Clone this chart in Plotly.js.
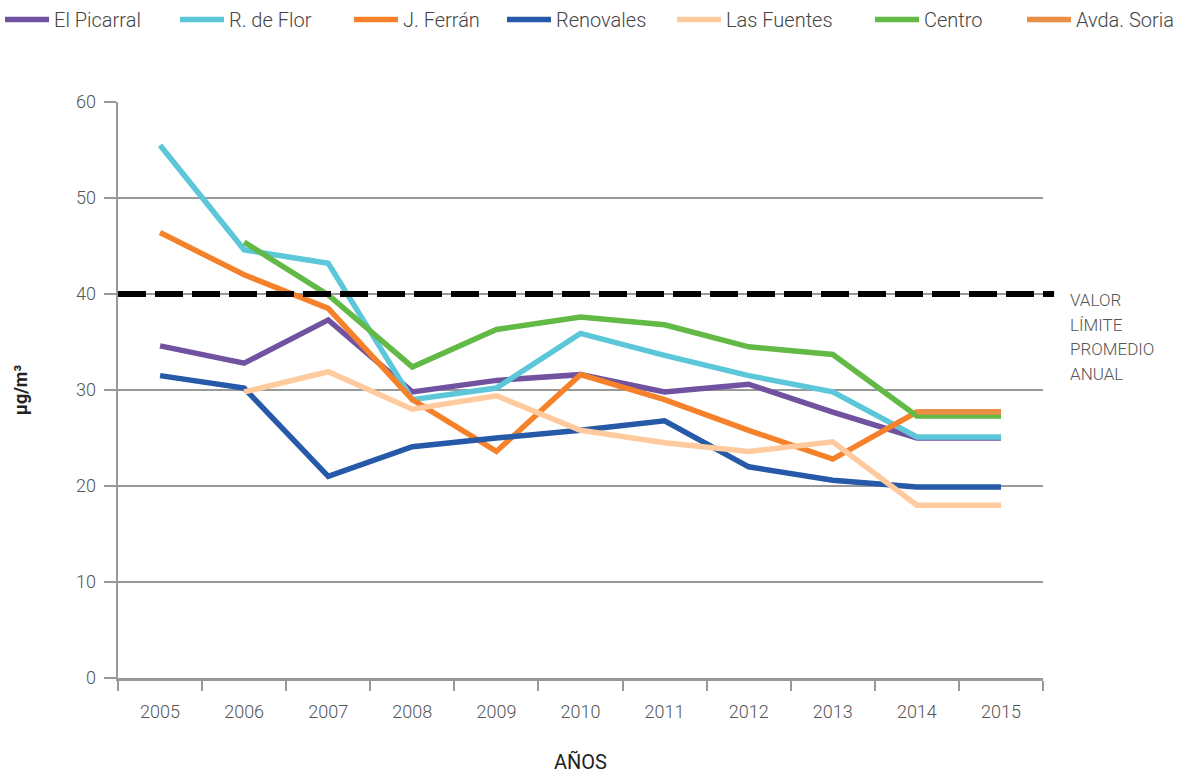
<!DOCTYPE html>
<html>
<head>
<meta charset="utf-8">
<script src="https://cdn.plot.ly/plotly-3.0.1.min.js"></script>
<style>
html,body{margin:0;padding:0;background:#fff;}
#chart{width:1188px;height:776px;}
</style>
</head>
<body>
<div id="chart"></div>
<script>
const years = ['2005','2006','2007','2008','2009','2010','2011','2012','2013','2014','2015'];
const elPicarral = [34.6, 32.8, 37.3, 29.8, 31.0, 31.6, 29.8, 30.6, 27.7, 25.0, 25.0];
const rDeFlor    = [55.5, 44.6, 43.2, 29.0, 30.2, 35.9, 33.6, 31.5, 29.8, 25.1, 25.1];
const jFerran    = [46.4, 42.0, 38.5, 29.0, 23.6, 31.6, 29.0, 25.8, 22.8, 27.7, 27.7];
const renovales  = [31.5, 30.2, 21.0, 24.1, 25.0, 25.8, 26.8, 22.0, 20.6, 19.9, 19.9];
const lasFuentes = [null, 29.8, 31.9, 28.0, 29.4, 25.8, 24.5, 23.6, 24.6, 18.0, 18.0];
const centro     = [null, 45.4, 39.9, 32.4, 36.3, 37.6, 36.8, 34.5, 33.7, 27.3, 27.3];
const avdaSoria  = [null, null, null, null, null, null, null, null, null, 27.7, 27.7];
const limitValue = 40;
const limitLines = ['VALOR','LÍMITE','PROMEDIO','ANUAL'];

const seriesNames  = ['El Picarral','R. de Flor','J. Ferrán','Renovales','Las Fuentes','Centro','Avda. Soria'];
const seriesData   = [elPicarral, rDeFlor, jFerran, renovales, lasFuentes, centro, avdaSoria];
const seriesColors = ['#7152A1','#5BC7D9','#F5822A','#2659A7','#FFCB9E','#62B946','#E88E45'];
// legend entry left positions (px)
const legendLeft = [0, 175, 349, 502, 672, 870, 1022];

const FONT = 'Roboto, "DejaVu Sans", sans-serif';
const W = 1188, H = 776;

const traces = seriesNames.map((n,i)=>({
  type:'scatter', mode:'lines', name:n, x:years, y:seriesData[i],
  line:{color:seriesColors[i], width:5.5}, connectgaps:false,
  legend: i===0 ? 'legend' : 'legend'+(i+1)
}));

const layout = {
  width:W, height:H,
  margin:{l:118, r:145, t:102, b:98},
  paper_bgcolor:'#fff', plot_bgcolor:'#fff',
  font:{family:FONT, size:18, color:'#555', weight:300},
  showlegend:true,
  xaxis:{type:'category', range:[-0.5,10.5], showline:true, linecolor:'#999', linewidth:2.5,
         ticks:'outside', tickson:'boundaries', ticklen:10, tickwidth:2, tickcolor:'#999',
         showgrid:false, zeroline:false, ticklabelstandoff:16,
         tickfont:{family:FONT, size:18, color:'#555', weight:300},
         title:{text:'AÑOS', standoff:34, font:{family:FONT, size:20, color:'#222', weight:400}}},
  yaxis:{range:[0,60], dtick:10, showline:true, linecolor:'#999', linewidth:2.5,
         ticks:'outside', ticklen:12, tickwidth:2, tickcolor:'#999',
         showgrid:true, gridcolor:'#999', gridwidth:2.5, zeroline:false,
         ticklabelstandoff:4,
         tickfont:{family:FONT, size:18, color:'#555', weight:300},
         title:{text:'µg/m³', standoff:44, font:{family:FONT, size:18, color:'#222', weight:700}}},
  shapes:[{type:'line', xref:'paper', x0:0, x1:1.012, yref:'y', y0:limitValue, y1:limitValue,
           line:{color:'#000', width:6, dash:'28px,9px'}, layer:'above'}],
  annotations: limitLines.map((t,k)=>({xref:'paper', x:1.027, xanchor:'left', yref:'y', y:limitValue,
                yanchor:'middle', yshift:-6 - 24.5*k,
                text:t, showarrow:false, align:'left',
                font:{family:FONT, size:17, color:'#555', weight:300}}))
};

seriesNames.forEach((n,i)=>{
  const key = i===0 ? 'legend' : 'legend'+(i+1);
  layout[key] = {orientation:'h', xref:'container', yref:'container', x:legendLeft[i]/W, xanchor:'left',
                 y:1, yanchor:'top', bgcolor:'rgba(0,0,0,0)', itemwidth:44,
                 font:{family:FONT, size:20, color:'#444', weight:300}};
});

Plotly.newPlot('chart', traces, layout, {displayModeBar:false, staticPlot:true});
</script>
</body>
</html>
